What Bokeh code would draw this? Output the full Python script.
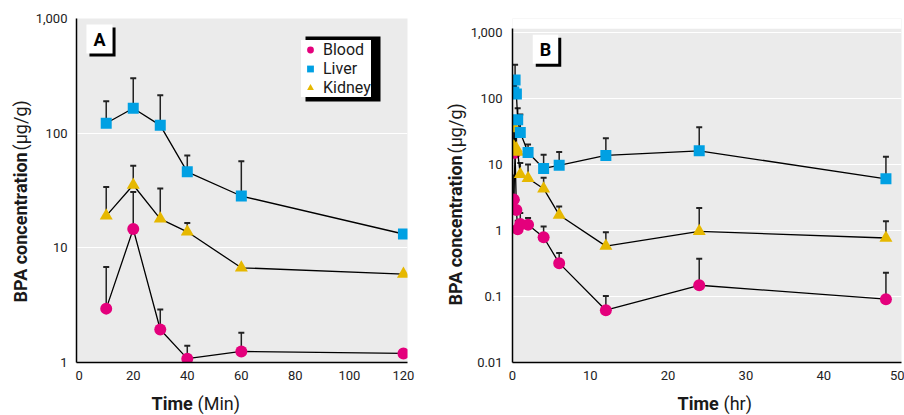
import math
from bokeh.plotting import figure
from bokeh.models import (Range1d, FixedTicker, Whisker, TeeHead, ColumnDataSource,
                          Legend, LegendItem, Label, BoxAnnotation)
from bokeh.layouts import row, column
from bokeh.embed import file_html
from bokeh.resources import INLINE

# ---------------- data ----------------
# Panel A: time in minutes
time_a = [10, 20, 30, 40, 60, 120]
blood_a = [2.95, 14.6, 1.94, 1.08, 1.25, 1.2]
blood_a_err = [6.8, 30.7, 2.9, 1.4, 1.82, None]
liver_a = [122, 165, 117, 46, 28.3, 13.2]
liver_a_err = [190, 301, 214, 64, 57, None]
kidney_a = [19, 35.3, 17.9, 13.8, 6.7, 5.9]
kidney_a_err = [34, 52, 33, 16.5, None, None]

# Panel B: time in hours
time_b = [0.167, 0.333, 0.5, 0.667, 1, 2, 4, 6, 12, 24, 48]
blood_b = [2.94, 15, 2.04, 1.04, 1.25, 1.22, 0.79, 0.32, 0.062, 0.148, 0.091]
blood_b_err = [6.8, 30.7, 2.9, 1.4, 1.84, 1.55, 1.15, 0.455, 0.102, 0.373, 0.229]
liver_b = [125, 190, 117, 47.6, 30.5, 15.2, 8.7, 9.7, 13.7, 16.1, 6.07]
liver_b_err = [190, 324, 214, 71, 57, 20, 14.0, 15.4, 25, 36.7, 13.1]
kidney_b = [18.7, 35, 17.5, 15.5, 7.1, 6.2, 4.3, 1.72, 0.58, 0.97, 0.77]
kidney_b_err = [34, 52, 33, 16.5, 10.5, 10, 6.3, 2.3, 0.94, 2.19, 1.38]

series_names = ["Blood", "Liver", "Kidney"]
xticks_a = [0, 20, 40, 60, 80, 100, 120]
xticks_b = [0, 10, 20, 30, 40, 50]
yticks_a = [1, 10, 100, 1000]
ylabels_a = ["1", "10", "100", "1,000"]
yticks_b = [0.01, 0.1, 1, 10, 100, 1000]
ylabels_b = ["0.01", "0.1", "1", "10", "100", "1,000"]

# ---------------- style ----------------
FONT = "Roboto"
C_BLOOD = "#e4007c"
C_LIVER = "#00a0e3"
C_KIDNEY = "#e6b800"
TXT = "#1a1a1a"
ROW_H = 391
TOP = 18
BOTTOM = 29


def helper(width, height, top=0, bottom=0):
    h = figure(width=width, height=height, x_range=Range1d(0, 1), y_range=Range1d(0, 1),
               x_axis_type=None, y_axis_type=None, output_backend="svg",
               toolbar_location=None, min_border_left=0, min_border_right=0,
               min_border_top=top, min_border_bottom=bottom)
    h.outline_line_color = None
    h.background_fill_color = "white"
    h.border_fill_color = "white"
    return h


def make_panel(width, mbl, mbr, xr, yr, xticks, yticks, ylabels, ystand):
    p = figure(width=width, height=ROW_H, x_range=Range1d(*xr), y_range=Range1d(*yr),
               y_axis_type="log", output_backend="svg", toolbar_location=None,
               min_border_left=mbl, min_border_right=mbr, min_border_top=TOP,
               min_border_bottom=BOTTOM)
    p.background_fill_color = "#ebebeb"
    p.border_fill_color = "white"
    p.outline_line_color = None
    p.xgrid.visible = False
    p.ygrid.ticker = FixedTicker(ticks=yticks, minor_ticks=[])
    p.ygrid.grid_line_color = "white"
    p.ygrid.grid_line_width = 1.2
    p.xaxis.ticker = FixedTicker(ticks=xticks, minor_ticks=[])
    p.yaxis.ticker = FixedTicker(ticks=yticks, minor_ticks=[])
    p.yaxis.major_label_overrides = {t: l for t, l in zip(yticks, ylabels)}
    for ax in (p.xaxis[0], p.yaxis[0]):
        ax.axis_line_color = "black"
        ax.axis_line_width = 1.5
        ax.major_tick_line_color = None
        ax.minor_tick_line_color = None
        ax.major_tick_out = 0
        ax.major_tick_in = 0
        ax.minor_tick_out = 0
        ax.minor_tick_in = 0
        ax.major_label_text_font = FONT
        ax.major_label_text_font_size = "13px"
        ax.major_label_text_color = "#222"
    p.xaxis.major_label_standoff = 8
    p.yaxis.major_label_standoff = ystand
    return p


def add_series(p, t, vals, errs, color, marker, size):
    xs = [x for x, e in zip(t, errs) if e is not None]
    lo = [v for v, e in zip(vals, errs) if e is not None]
    hi = [e for e in errs if e is not None]
    if xs:
        src = ColumnDataSource(dict(x=xs, lo=lo, hi=hi))
        p.add_layout(Whisker(source=src, base="x", lower="lo", upper="hi",
                             dimension="height", line_color="#222", line_width=1.5,
                             lower_head=None,
                             upper_head=TeeHead(size=6, line_color="#222", line_width=2)))
    p.line(t, vals, line_color="black", line_width=1.3)
    return p.scatter(t, vals, marker=marker, size=size, fill_color=color, line_color=None)


def add_text(p, text, x, y, size, bold=False, angle=0.0):
    p.add_layout(Label(x=x, y=y, x_units="screen", y_units="screen", text=text,
                       text_font=FONT, text_font_size=size,
                       text_font_style="bold" if bold else "normal",
                       text_color=TXT, angle=angle, text_align="left",
                       text_baseline="alphabetic"))


def panel_tag(p, text, x, y):
    pad = dict(left=7, right=7, top=4, bottom=4)
    for dx, bg in ((3, "black"), (0, "white")):
        p.add_layout(Label(x=x + dx, y=y - dx, x_units="screen", y_units="screen", text=text,
                           text_font=FONT, text_font_size="18px", text_font_style="bold",
                           text_color="black", text_align="center", text_baseline="middle",
                           background_fill_color=bg, padding=pad))


# ---------------- panel A ----------------
pa = make_panel(408, 40, 33, (-1, 121.5), (1, 1000), xticks_a, yticks_a, ylabels_a, 9)
rb = add_series(pa, time_a, blood_a, blood_a_err, C_BLOOD, "circle", 12)
rk = add_series(pa, time_a, kidney_a, kidney_a_err, C_KIDNEY, "triangle", 13)
rl = add_series(pa, time_a, liver_a, liver_a_err, C_LIVER, "square", 11)

pa.add_layout(BoxAnnotation(left=229, right=304, bottom=261, top=326,
                            left_units="screen", right_units="screen",
                            bottom_units="screen", top_units="screen",
                            fill_color="black", fill_alpha=1, line_color=None))
legend = Legend(items=[LegendItem(label=series_names[0], renderers=[rb]),
                       LegendItem(label=series_names[1], renderers=[rl]),
                       LegendItem(label=series_names[2], renderers=[rk])],
                location=(225, 265), background_fill_color="white", background_fill_alpha=1,
                border_line_color=None, label_text_font=FONT, label_text_font_size="16px",
                label_text_color=TXT, glyph_width=18, glyph_height=17, label_standoff=4,
                padding=6, spacing=0, margin=0, label_height=16)
pa.add_layout(legend)
panel_tag(pa, "A", 23, 323.5)

# ---------------- panel B ----------------
pb = make_panel(437, 42, 3, (0, 50), (0.01, 1629), xticks_b, yticks_b, ylabels_b, 10)
pb.yaxis.bounds = (0.01, 1138)
pb.add_layout(BoxAnnotation(bottom=1138, fill_color="white", fill_alpha=1, line_color=None,
                            level="underlay"))
add_series(pb, time_b, blood_b, blood_b_err, C_BLOOD, "circle", 12)
add_series(pb, time_b, kidney_b, kidney_b_err, C_KIDNEY, "triangle", 13)
add_series(pb, time_b, liver_b, liver_b_err, C_LIVER, "square", 11)
panel_tag(pb, "B", 33, 313.3)

# ---------------- axis titles (helpers) ----------------
ta = helper(32, ROW_H, TOP, BOTTOM)
add_text(ta, "BPA concentration", 20, 60, "18px", bold=True, angle=math.pi / 2)
add_text(ta, "(\u00b5g/g)", 20, 212, "18px", angle=math.pi / 2)

tb = helper(27, ROW_H, TOP, BOTTOM)
add_text(tb, "BPA concentration", 15, 57, "18px", bold=True, angle=math.pi / 2)
add_text(tb, "(\u00b5g/g)", 15, 209, "18px", angle=math.pi / 2)

tx = helper(904, 415 - ROW_H)
add_text(tx, "Time", 151, 12, "18px", bold=True)
add_text(tx, "(Min)", 197, 12, "18px")
add_text(tx, "Time", 677, 12, "18px", bold=True)
add_text(tx, "(hr)", 723, 12, "18px")

layout = column(row(ta, pa, tb, pb), tx)
open("out.html", "w").write(file_html(layout, INLINE))
